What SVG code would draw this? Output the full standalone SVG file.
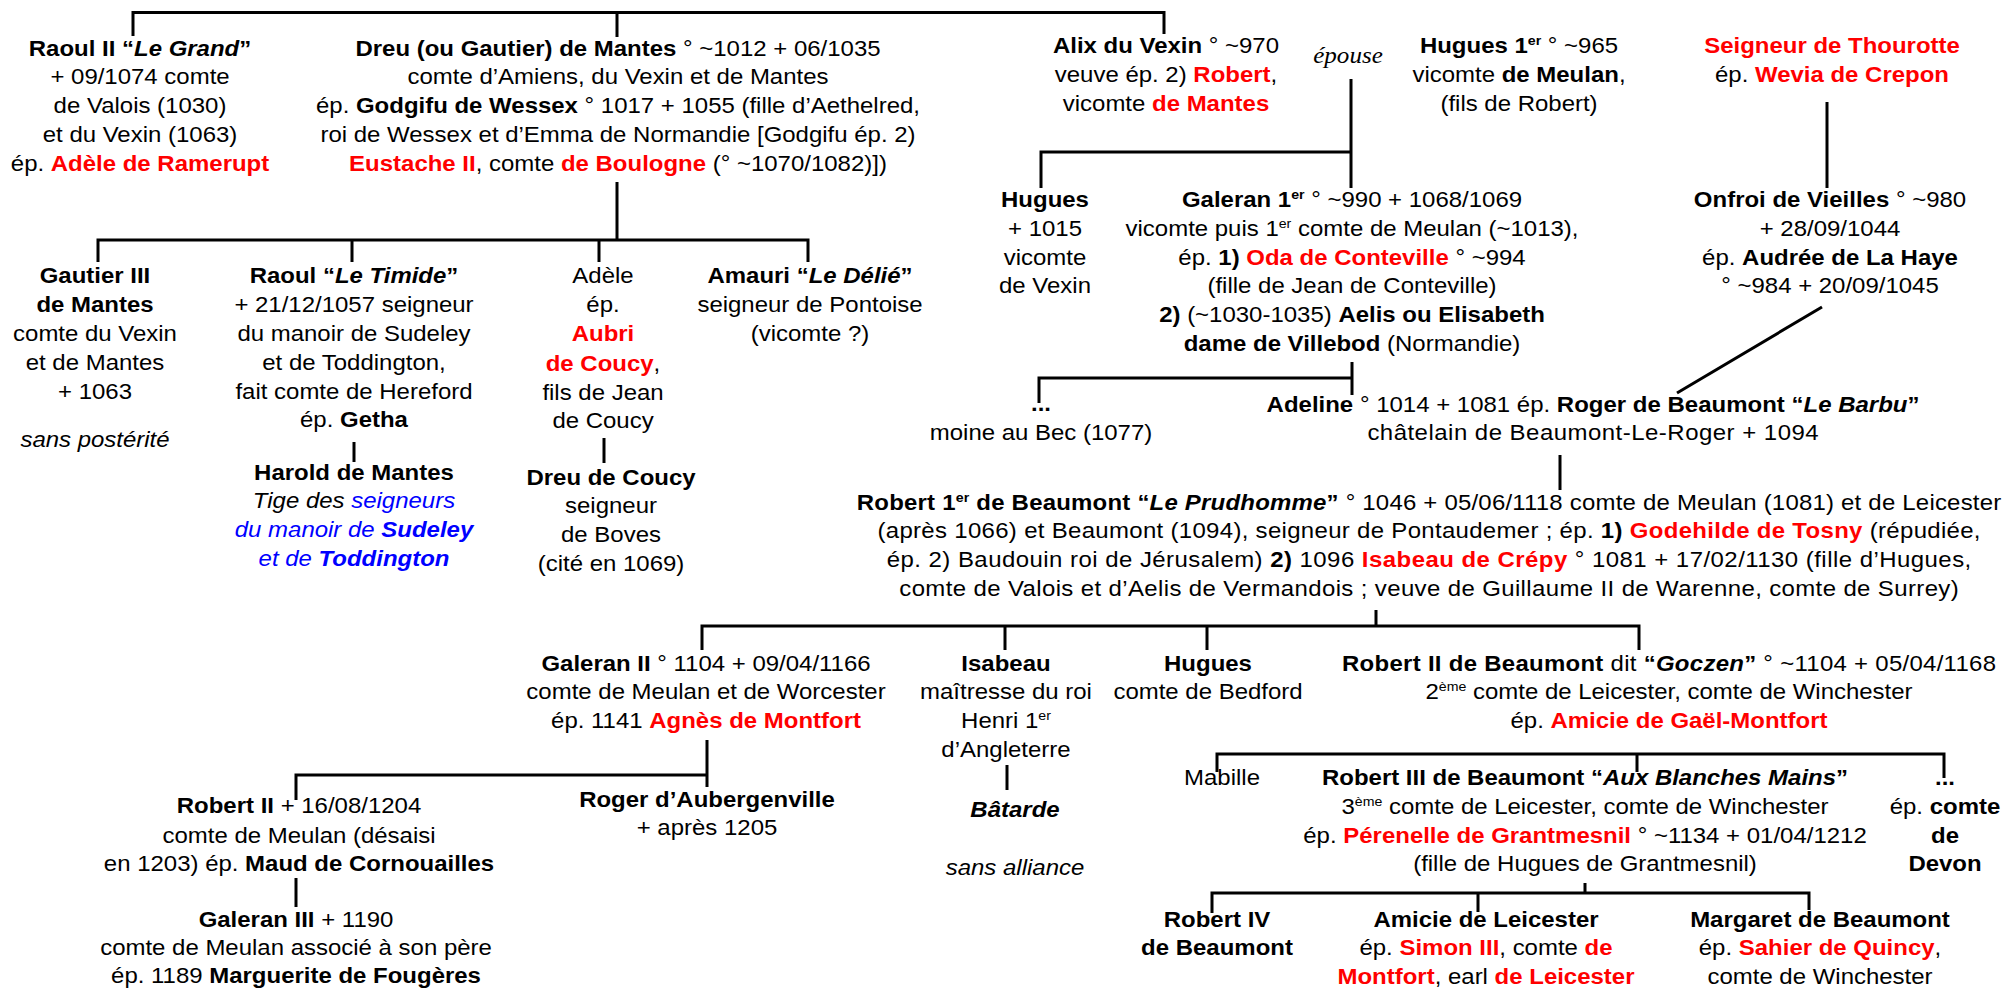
<svg xmlns="http://www.w3.org/2000/svg" width="2009" height="989" viewBox="0 0 2009 989">
<style>
text{font-family:"Liberation Sans",Arial,sans-serif;font-size:22px;fill:#000;text-anchor:middle}
.b{font-weight:bold}
.i{font-style:italic}
.r{fill:#FF0000;font-weight:bold}
.u{fill:#0000FF}
.s{font-size:13px}
.ep{font-family:"Liberation Serif","Times New Roman",serif;font-style:italic;font-size:23px}
#links path{fill:none;stroke:#000;stroke-width:3}
</style>
<rect width="2009" height="989" fill="#fff"/>
<g id="links">
<path d="M133 36V12.5H1164V34M617 12.5V37"/>
<path d="M617 182V240M98 262V240H808V262M352 240V262M599 240V262"/>
<path d="M354 442V462"/>
<path d="M604 438V463"/>
<path d="M1351 79V188M1041 188V152H1351"/>
<path d="M1827 102V188"/>
<path d="M1352 362V395M1039 403V378H1352"/>
<path d="M1822 307L1677 393"/>
<path d="M1560 455V490"/>
<path d="M1376 610V626M702 650V626H1639V650M1005 626V650M1207 626V650"/>
<path d="M707 740V787M296 800V775H707"/>
<path d="M296 878V907"/>
<path d="M1007 765V790"/>
<path d="M1217 772V754H1944V778M1637 754V772"/>
<path d="M1585 883V893M1212 913V893H1809V910M1478 893V912"/>
</g>
<g id="raoul2" transform="translate(140 0) scale(1.09 1)">
<text y="56" class="b">Raoul II “<tspan class="i">Le Grand</tspan>”</text>
<text y="84.5">+ 09/1074 comte</text>
<text y="113">de Valois (1030)</text>
<text y="142">et du Vexin (1063)</text>
<text y="171">ép. <tspan class="r">Adèle de Ramerupt</tspan></text>
</g>
<g id="dreu" transform="translate(618 0) scale(1.09 1)">
<text y="56"><tspan class="b">Dreu (ou Gautier) de Mantes</tspan> ° ~1012 + 06/1035</text>
<text y="84.5">comte d’Amiens, du Vexin et de Mantes</text>
<text y="113">ép. <tspan class="b">Godgifu de Wessex</tspan> ° 1017 + 1055 (fille d’Aethelred,</text>
<text y="142">roi de Wessex et d’Emma de Normandie [Godgifu ép. 2)</text>
<text y="171"><tspan class="r">Eustache II</tspan>, comte <tspan class="r">de Boulogne</tspan> (° ~1070/1082)])</text>
</g>
<g id="alix" transform="translate(1166 0) scale(1.09 1)">
<text y="53"><tspan class="b">Alix du Vexin</tspan> ° ~970</text>
<text y="82">veuve ép. 2) <tspan class="r">Robert</tspan>,</text>
<text y="111">vicomte <tspan class="r">de Mantes</tspan></text>
</g>
<g id="epouse" transform="translate(1348 0) scale(1.09 1)">
<text y="63" class="ep">épouse</text>
</g>
<g id="hugues1" transform="translate(1519 0) scale(1.09 1)">
<text y="53"><tspan class="b">Hugues 1<tspan class="s" dy="-8">er</tspan></tspan><tspan dy="8"> ° ~965</tspan></text>
<text y="82">vicomte <tspan class="b">de Meulan</tspan>,</text>
<text y="111">(fils de Robert)</text>
</g>
<g id="thourotte" transform="translate(1832 0) scale(1.09 1)">
<text y="53" class="r">Seigneur de Thourotte</text>
<text y="82">ép. <tspan class="r">Wevia de Crepon</tspan></text>
</g>
<g id="onfroi" transform="translate(1830 0) scale(1.09 1)">
<text y="207"><tspan class="b">Onfroi de Vieilles</tspan> ° ~980</text>
<text y="236">+ 28/09/1044</text>
<text y="265">ép. <tspan class="b">Audrée de La Haye</tspan></text>
<text y="293">° ~984 + 20/09/1045</text>
</g>
<g id="huguesv" transform="translate(1045 0) scale(1.09 1)">
<text y="207" class="b">Hugues</text>
<text y="236">+ 1015</text>
<text y="265">vicomte</text>
<text y="293">de Vexin</text>
</g>
<g id="galeran1" transform="translate(1352 0) scale(1.09 1)">
<text y="207"><tspan class="b">Galeran 1<tspan class="s" dy="-8">er</tspan></tspan><tspan dy="8"> ° ~990 + 1068/1069</tspan></text>
<text y="236">vicomte puis 1<tspan class="s" dy="-8">er</tspan><tspan dy="8"> comte de Meulan (~1013),</tspan></text>
<text y="265">ép. <tspan class="b">1)</tspan> <tspan class="r">Oda de Conteville</tspan> ° ~994</text>
<text y="293">(fille de Jean de Conteville)</text>
<text y="322"><tspan class="b">2)</tspan> (~1030-1035) <tspan class="b">Aelis ou Elisabeth</tspan></text>
<text y="351"><tspan class="b">dame de Villebod</tspan> (Normandie)</text>
</g>
<g id="gautier3" transform="translate(95 0) scale(1.09 1)">
<text y="283" class="b">Gautier III</text>
<text y="312" class="b">de Mantes</text>
<text y="341">comte du Vexin</text>
<text y="370">et de Mantes</text>
<text y="399">+ 1063</text>
<text y="447" class="i">sans postérité</text>
</g>
<g id="raoult" transform="translate(354 0) scale(1.09 1)">
<text y="283" class="b">Raoul “<tspan class="i">Le Timide</tspan>”</text>
<text y="312">+ 21/12/1057 seigneur</text>
<text y="341">du manoir de Sudeley</text>
<text y="370">et de Toddington,</text>
<text y="399">fait comte de Hereford</text>
<text y="427">ép. <tspan class="b">Getha</tspan></text>
</g>
<g id="harold" transform="translate(354 0) scale(1.09 1)">
<text y="480" class="b">Harold de Mantes</text>
<text y="508" class="i">Tige des <tspan class="u">seigneurs</tspan></text>
<text y="537" class="i u">du manoir de <tspan class="b">Sudeley</tspan></text>
<text y="566" class="i u">et de <tspan class="b">Toddington</tspan></text>
</g>
<g id="adele" transform="translate(603 0) scale(1.09 1)">
<text y="283">Adèle</text>
<text y="312">ép.</text>
<text y="341" class="r">Aubri</text>
<text y="371"><tspan class="r">de Coucy</tspan>,</text>
<text y="400">fils de Jean</text>
<text y="428">de Coucy</text>
</g>
<g id="dreucoucy" transform="translate(611 0) scale(1.09 1)">
<text y="485" class="b">Dreu de Coucy</text>
<text y="513">seigneur</text>
<text y="542">de Boves</text>
<text y="571">(cité en 1069)</text>
</g>
<g id="amauri" transform="translate(810 0) scale(1.09 1)">
<text y="283" class="b">Amauri “<tspan class="i">Le Délié</tspan>”</text>
<text y="312">seigneur de Pontoise</text>
<text y="341">(vicomte ?)</text>
</g>
<g id="moine" transform="translate(1041 0) scale(1.09 1)">
<text y="411" class="b">...</text>
<text y="440">moine au Bec (1077)</text>
</g>
<g id="adeline" transform="translate(1593 0) scale(1.09 1)">
<text y="412" textLength="599" lengthAdjust="spacing"><tspan class="b">Adeline</tspan> ° 1014 + 1081 ép. <tspan class="b">Roger de Beaumont “<tspan class="i">Le Barbu</tspan>”</tspan></text>
<text y="440" textLength="414" lengthAdjust="spacing">châtelain de Beaumont-Le-Roger + 1094</text>
</g>
<g id="robert1" transform="translate(1429 0) scale(1.09 1)">
<text y="510" textLength="1050" lengthAdjust="spacing"><tspan class="b">Robert 1<tspan class="s" dy="-8">er</tspan></tspan><tspan class="b" dy="8"> de Beaumont “<tspan class="i">Le Prudhomme</tspan>”</tspan> ° 1046 + 05/06/1118 comte de Meulan (1081) et de Leicester</text>
<text y="538" textLength="1012" lengthAdjust="spacing">(après 1066) et Beaumont (1094), seigneur de Pontaudemer ; ép. <tspan class="b">1)</tspan> <tspan class="r">Godehilde de Tosny</tspan> (répudiée,</text>
<text y="567" textLength="995" lengthAdjust="spacing">ép. 2) Baudouin roi de Jérusalem)  <tspan class="b">2)</tspan> 1096 <tspan class="r">Isabeau de Crépy</tspan> ° 1081 + 17/02/1130 (fille d’Hugues,</text>
<text y="596" textLength="972" lengthAdjust="spacing">comte de Valois et d’Aelis de Vermandois ; veuve de Guillaume II de Warenne, comte de Surrey)</text>
</g>
<g id="galeran2" transform="translate(706 0) scale(1.09 1)">
<text y="671"><tspan class="b">Galeran II</tspan> ° 1104  + 09/04/1166</text>
<text y="699">comte de Meulan et de Worcester</text>
<text y="728">ép. 1141 <tspan class="r">Agnès de Montfort</tspan></text>
</g>
<g id="isabeau" transform="translate(1006 0) scale(1.09 1)">
<text y="671" class="b">Isabeau</text>
<text y="699">maîtresse du roi</text>
<text y="728">Henri 1<tspan class="s" dy="-8">er</tspan></text>
<text y="757">d’Angleterre</text>
</g>
<g id="batarde" transform="translate(1015 0) scale(1.09 1)">
<text y="817" class="b i">Bâtarde</text>
<text y="875" class="i">sans alliance</text>
</g>
<g id="huguesb" transform="translate(1208 0) scale(1.09 1)">
<text y="671" class="b">Hugues</text>
<text y="699">comte de Bedford</text>
</g>
<g id="robert2b" transform="translate(1669 0) scale(1.09 1)">
<text y="671" textLength="600" lengthAdjust="spacing"><tspan class="b">Robert II de Beaumont</tspan>  dit <tspan class="b">“<tspan class="i">Goczen</tspan>”</tspan> ° ~1104  + 05/04/1168</text>
<text y="699">2<tspan class="s" dy="-8">ème</tspan><tspan dy="8"> comte de Leicester, comte de Winchester</tspan></text>
<text y="728">ép. <tspan class="r">Amicie de Gaël-Montfort</tspan></text>
</g>
<g id="mabille" transform="translate(1222 0) scale(1.09 1)">
<text y="785">Mabille</text>
</g>
<g id="robert3" transform="translate(1585 0) scale(1.09 1)">
<text y="785" class="b">Robert III de Beaumont  “<tspan class="i">Aux Blanches Mains</tspan>”</text>
<text y="814">3<tspan class="s" dy="-8">ème</tspan><tspan dy="8"> comte de Leicester, comte de Winchester</tspan></text>
<text y="843">ép. <tspan class="r">Pérenelle de Grantmesnil</tspan> ° ~1134 + 01/04/1212</text>
<text y="871">(fille de Hugues de Grantmesnil)</text>
</g>
<g id="devon" transform="translate(1945 0) scale(1.09 1)">
<text y="785" class="b">...</text>
<text y="814">ép. <tspan class="b">comte</tspan></text>
<text y="843" class="b">de</text>
<text y="871" class="b">Devon</text>
</g>
<g id="robert2" transform="translate(299 0) scale(1.09 1)">
<text y="813"><tspan class="b">Robert II</tspan> + 16/08/1204</text>
<text y="843">comte de Meulan (désaisi</text>
<text y="871">en 1203) ép. <tspan class="b">Maud de Cornouailles</tspan></text>
</g>
<g id="galeran3" transform="translate(296 0) scale(1.09 1)">
<text y="927"><tspan class="b">Galeran III</tspan> + 1190</text>
<text y="955">comte de Meulan associé à son père</text>
<text y="983">ép. 1189 <tspan class="b">Marguerite de Fougères</tspan></text>
</g>
<g id="roger" transform="translate(707 0) scale(1.09 1)">
<text y="807" class="b">Roger d’Aubergenville</text>
<text y="835">+ après 1205</text>
</g>
<g id="robert4" transform="translate(1217 0) scale(1.09 1)">
<text y="927" class="b">Robert IV</text>
<text y="955" class="b">de Beaumont</text>
</g>
<g id="amicie" transform="translate(1486 0) scale(1.09 1)">
<text y="927" class="b">Amicie de Leicester</text>
<text y="955">ép. <tspan class="r">Simon III</tspan>, comte <tspan class="r">de</tspan></text>
<text y="984"><tspan class="r">Montfort</tspan>, earl <tspan class="r">de Leicester</tspan></text>
</g>
<g id="margaret" transform="translate(1820 0) scale(1.09 1)">
<text y="927" class="b">Margaret de Beaumont</text>
<text y="955">ép. <tspan class="r">Sahier de Quincy</tspan>,</text>
<text y="984">comte de Winchester</text>
</g>
</svg>
